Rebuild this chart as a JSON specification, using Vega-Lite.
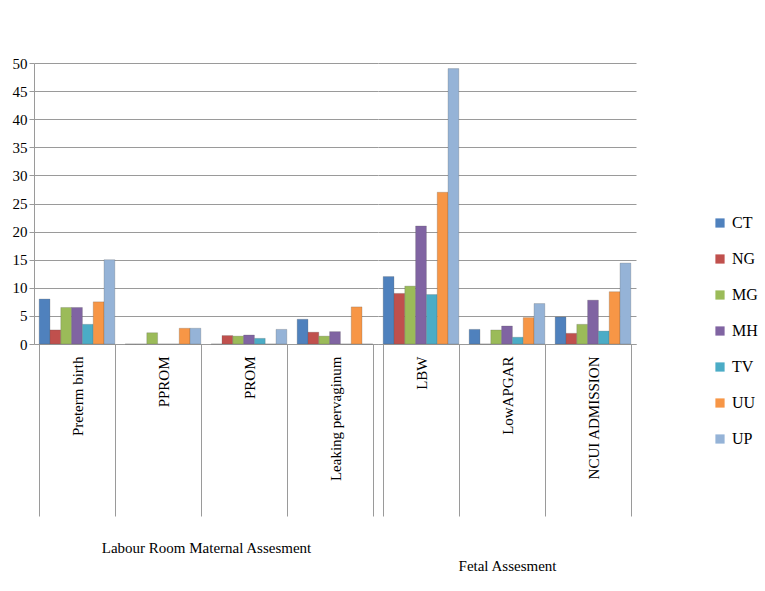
{
  "$schema": "https://vega.github.io/schema/vega-lite/v6.json",
  "background": "white",
  "padding": {"left": 12, "top": 56, "right": 12, "bottom": 8},
  "data": {
    "values": [
      {"group": "Labour Room Maternal Assesment", "measure": "Preterm birth", "series": "CT", "value": 8},
      {"group": "Labour Room Maternal Assesment", "measure": "Preterm birth", "series": "NG", "value": 2.5},
      {"group": "Labour Room Maternal Assesment", "measure": "Preterm birth", "series": "MG", "value": 6.5},
      {"group": "Labour Room Maternal Assesment", "measure": "Preterm birth", "series": "MH", "value": 6.5},
      {"group": "Labour Room Maternal Assesment", "measure": "Preterm birth", "series": "TV", "value": 3.5},
      {"group": "Labour Room Maternal Assesment", "measure": "Preterm birth", "series": "UU", "value": 7.5},
      {"group": "Labour Room Maternal Assesment", "measure": "Preterm birth", "series": "UP", "value": 15},
      {"group": "Labour Room Maternal Assesment", "measure": "PPROM", "series": "CT", "value": 0},
      {"group": "Labour Room Maternal Assesment", "measure": "PPROM", "series": "NG", "value": 0},
      {"group": "Labour Room Maternal Assesment", "measure": "PPROM", "series": "MG", "value": 2},
      {"group": "Labour Room Maternal Assesment", "measure": "PPROM", "series": "MH", "value": 0},
      {"group": "Labour Room Maternal Assesment", "measure": "PPROM", "series": "TV", "value": 0},
      {"group": "Labour Room Maternal Assesment", "measure": "PPROM", "series": "UU", "value": 2.8},
      {"group": "Labour Room Maternal Assesment", "measure": "PPROM", "series": "UP", "value": 2.8},
      {"group": "Labour Room Maternal Assesment", "measure": "PROM", "series": "CT", "value": 0},
      {"group": "Labour Room Maternal Assesment", "measure": "PROM", "series": "NG", "value": 1.5},
      {"group": "Labour Room Maternal Assesment", "measure": "PROM", "series": "MG", "value": 1.4},
      {"group": "Labour Room Maternal Assesment", "measure": "PROM", "series": "MH", "value": 1.6},
      {"group": "Labour Room Maternal Assesment", "measure": "PROM", "series": "TV", "value": 1},
      {"group": "Labour Room Maternal Assesment", "measure": "PROM", "series": "UU", "value": 0},
      {"group": "Labour Room Maternal Assesment", "measure": "PROM", "series": "UP", "value": 2.6},
      {"group": "Labour Room Maternal Assesment", "measure": "Leaking pervaginum", "series": "CT", "value": 4.4},
      {"group": "Labour Room Maternal Assesment", "measure": "Leaking pervaginum", "series": "NG", "value": 2.1},
      {"group": "Labour Room Maternal Assesment", "measure": "Leaking pervaginum", "series": "MG", "value": 1.4},
      {"group": "Labour Room Maternal Assesment", "measure": "Leaking pervaginum", "series": "MH", "value": 2.2},
      {"group": "Labour Room Maternal Assesment", "measure": "Leaking pervaginum", "series": "TV", "value": 0},
      {"group": "Labour Room Maternal Assesment", "measure": "Leaking pervaginum", "series": "UU", "value": 6.6},
      {"group": "Labour Room Maternal Assesment", "measure": "Leaking pervaginum", "series": "UP", "value": 0},
      {"group": "Fetal Assesment", "measure": "LBW", "series": "CT", "value": 12},
      {"group": "Fetal Assesment", "measure": "LBW", "series": "NG", "value": 9},
      {"group": "Fetal Assesment", "measure": "LBW", "series": "MG", "value": 10.3},
      {"group": "Fetal Assesment", "measure": "LBW", "series": "MH", "value": 21},
      {"group": "Fetal Assesment", "measure": "LBW", "series": "TV", "value": 8.8},
      {"group": "Fetal Assesment", "measure": "LBW", "series": "UU", "value": 27},
      {"group": "Fetal Assesment", "measure": "LBW", "series": "UP", "value": 49},
      {"group": "Fetal Assesment", "measure": "LowAPGAR", "series": "CT", "value": 2.6},
      {"group": "Fetal Assesment", "measure": "LowAPGAR", "series": "NG", "value": 0},
      {"group": "Fetal Assesment", "measure": "LowAPGAR", "series": "MG", "value": 2.5},
      {"group": "Fetal Assesment", "measure": "LowAPGAR", "series": "MH", "value": 3.2},
      {"group": "Fetal Assesment", "measure": "LowAPGAR", "series": "TV", "value": 1.2},
      {"group": "Fetal Assesment", "measure": "LowAPGAR", "series": "UU", "value": 4.7},
      {"group": "Fetal Assesment", "measure": "LowAPGAR", "series": "UP", "value": 7.2},
      {"group": "Fetal Assesment", "measure": "NCUI ADMISSION", "series": "CT", "value": 4.8},
      {"group": "Fetal Assesment", "measure": "NCUI ADMISSION", "series": "NG", "value": 1.9},
      {"group": "Fetal Assesment", "measure": "NCUI ADMISSION", "series": "MG", "value": 3.5},
      {"group": "Fetal Assesment", "measure": "NCUI ADMISSION", "series": "MH", "value": 7.8},
      {"group": "Fetal Assesment", "measure": "NCUI ADMISSION", "series": "TV", "value": 2.3},
      {"group": "Fetal Assesment", "measure": "NCUI ADMISSION", "series": "UU", "value": 9.3},
      {"group": "Fetal Assesment", "measure": "NCUI ADMISSION", "series": "UP", "value": 14.4}
    ]
  },
  "spacing": 0,
  "bounds": "flush",
  "resolve": {"scale": {"y": "shared", "color": "shared"}, "legend": {"color": "independent"}},
  "hconcat": [
    {
      "width": 344,
      "height": 281,
      "transform": [{"filter": "datum.group === 'Labour Room Maternal Assesment'"}],
      "mark": {"type": "bar", "stroke": "#555555", "strokeWidth": 0.4, "strokeOpacity": 0.6},
      "encoding": {
        "x": {
          "field": "measure",
          "type": "nominal",
          "sort": ["Preterm birth", "PPROM", "PROM", "Leaking pervaginum"],
          "scale": {"paddingInner": 0.12, "paddingOuter": 0.06},
          "axis": {
            "title": "Labour Room Maternal Assesment",
            "labelAngle": -90,
            "labelPadding": -160,
            "tickBand": "extent",
            "tickSize": 172,
            "titlePadding": 24
          }
        },
        "xOffset": {"field": "series", "sort": ["CT", "NG", "MG", "MH", "TV", "UU", "UP"]},
        "y": {
          "field": "value",
          "type": "quantitative",
          "scale": {"domain": [0, 50]},
          "axis": {"title": null, "values": [0, 5, 10, 15, 20, 25, 30, 35, 40, 45, 50]}
        },
        "color": {"field": "series", "type": "nominal", "legend": null}
      }
    },
    {
      "width": 258,
      "height": 281,
      "transform": [{"filter": "datum.group === 'Fetal Assesment'"}],
      "mark": {"type": "bar", "stroke": "#555555", "strokeWidth": 0.4, "strokeOpacity": 0.6},
      "encoding": {
        "x": {
          "field": "measure",
          "type": "nominal",
          "sort": ["LBW", "LowAPGAR", "NCUI ADMISSION"],
          "scale": {"paddingInner": 0.12, "paddingOuter": 0.06},
          "axis": {
            "title": "Fetal Assesment",
            "labelAngle": -90,
            "labelPadding": -160,
            "tickBand": "extent",
            "tickSize": 172,
            "titlePadding": 42
          }
        },
        "xOffset": {"field": "series", "sort": ["CT", "NG", "MG", "MH", "TV", "UU", "UP"]},
        "y": {
          "field": "value",
          "type": "quantitative",
          "scale": {"domain": [0, 50]},
          "axis": {"title": null, "orient": "right", "values": [0, 5, 10, 15, 20, 25, 30, 35, 40, 45, 50], "labels": false, "ticks": false, "domain": false, "minExtent": 0, "maxExtent": 0}
        },
        "color": {
          "field": "series",
          "type": "nominal",
          "scale": {
            "domain": ["CT", "NG", "MG", "MH", "TV", "UU", "UP"],
            "range": ["#4F81BD", "#C0504D", "#9BBB59", "#8064A2", "#4BACC6", "#F79646", "#95B3D7"]
          },
          "legend": {
            "title": null,
            "orient": "none",
            "legendX": 334,
            "legendY": 152,
            "symbolType": "square",
            "symbolSize": 85,
            "symbolStrokeWidth": 0,
            "labelFontSize": 16,
            "rowPadding": 20,
            "padding": 0
          }
        }
      }
    }
  ],
  "config": {
    "view": {"stroke": null},
    "font": "Liberation Serif",
    "axis": {
      "labelFont": "Liberation Serif",
      "labelFontSize": 15,
      "labelColor": "black",
      "titleFont": "Liberation Serif",
      "titleFontSize": 15,
      "titleFontWeight": "normal",
      "titleColor": "black",
      "gridColor": "#9a9a9a",
      "domainColor": "#9a9a9a",
      "tickColor": "#9a9a9a"
    },
    "legend": {"labelFont": "Liberation Serif", "labelColor": "black"}
  }
}
